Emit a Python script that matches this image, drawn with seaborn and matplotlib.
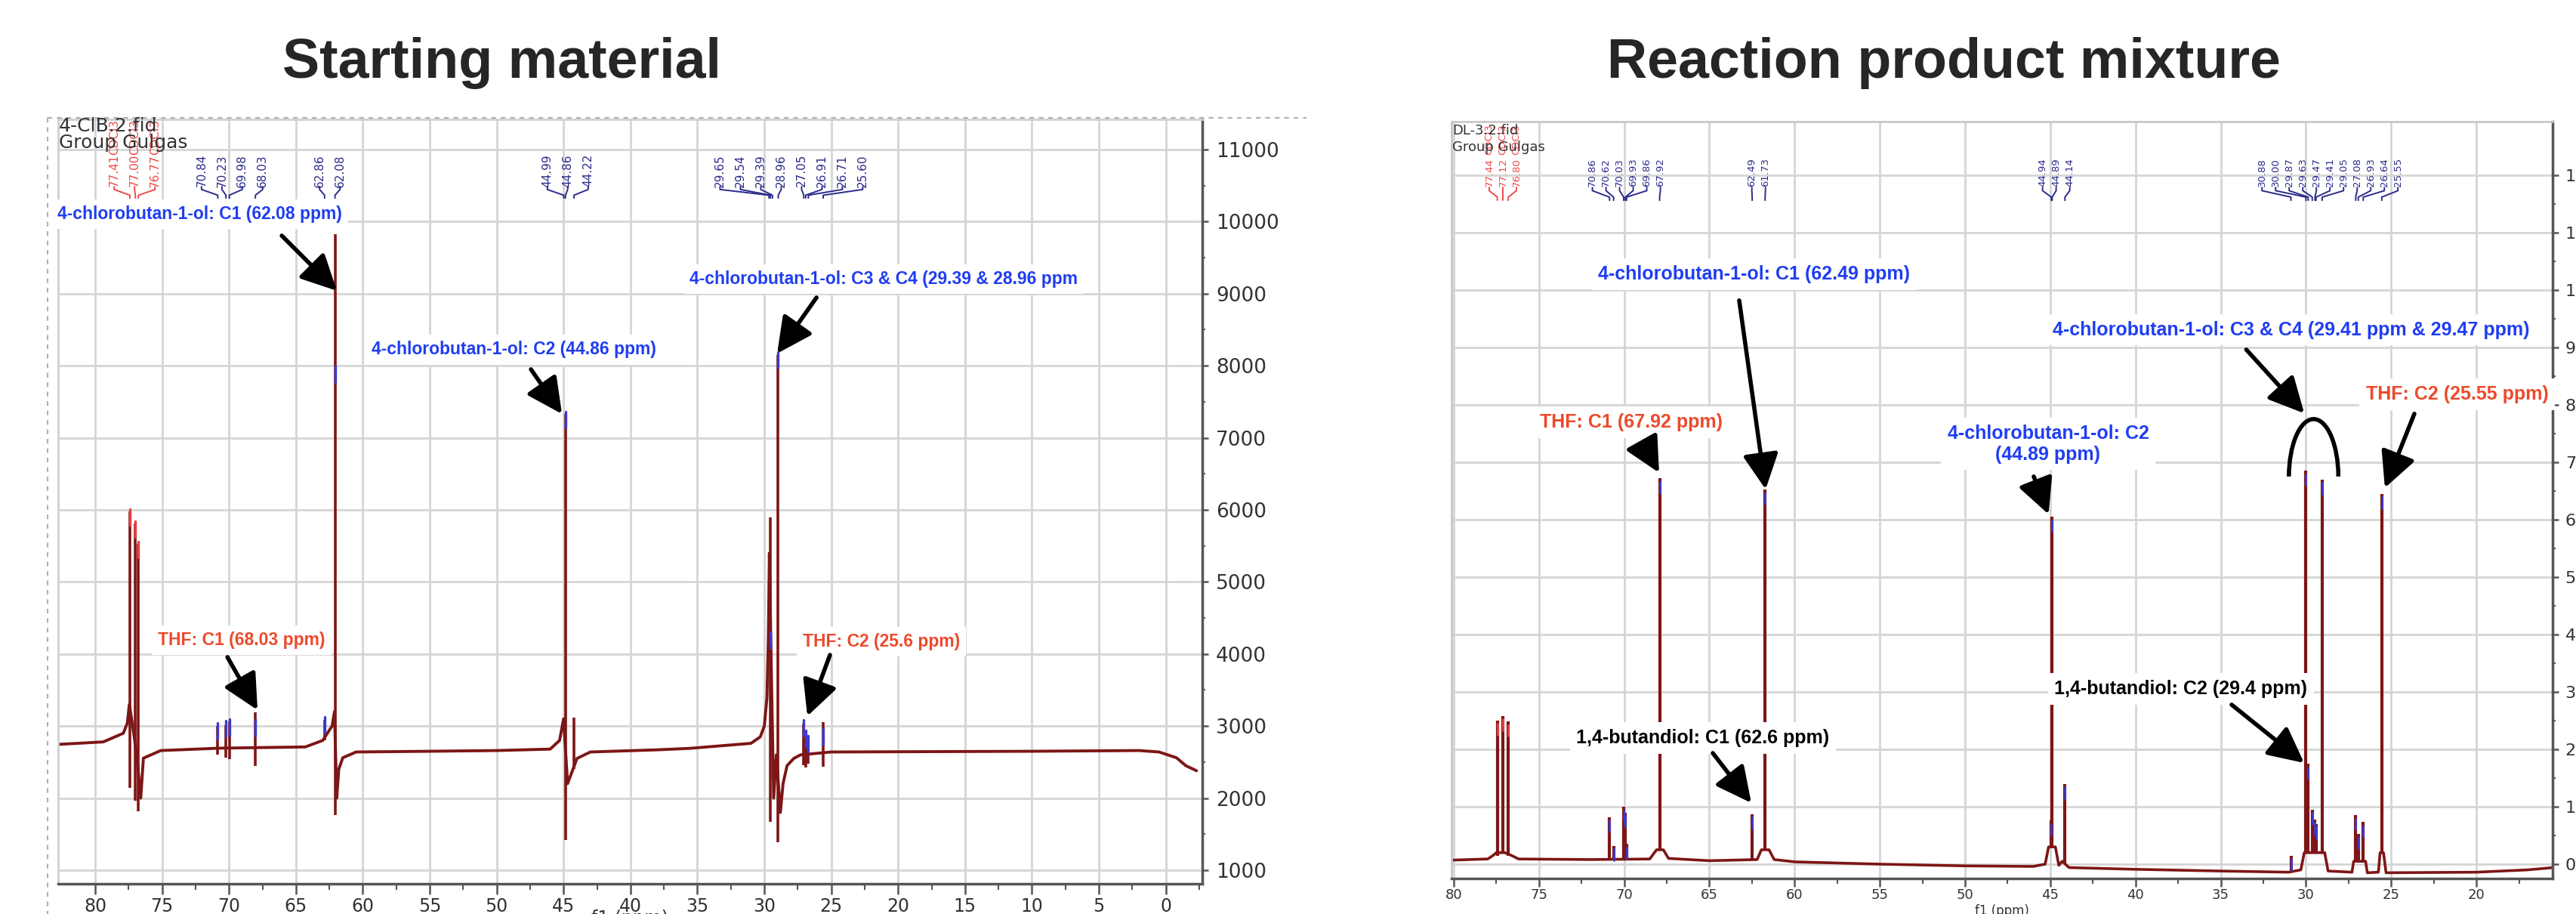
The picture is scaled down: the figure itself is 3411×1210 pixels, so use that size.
import matplotlib
matplotlib.use("Agg")
import numpy as np
import matplotlib.pyplot as plt
import seaborn as sns
from matplotlib.patches import Arc
from matplotlib.lines import Line2D

W, H = 3411, 1210

# ---------------- Starting material (4-ClB.2.fid) ----------------
sm_base_ppm = [82.8, 79.4, 77.9, 77.6, 77.45, 77.2, 76.9, 76.6, 76.4, 75.1, 70.7, 64.3, 63.0,
               62.3, 62.12, 61.95, 61.8, 61.5, 60.5, 55.0, 50.0, 46.0, 45.3, 45.0, 44.7, 44.5,
               44.0, 43.0, 38.0, 35.6, 31.0, 30.3, 30.0, 29.8, 29.7, 29.62, 29.45, 29.3, 29.1,
               28.8, 28.6, 28.3, 27.8, 27.3, 25.0, 10.0, 2.0, 0.5, -0.8, -1.5, -2.3]
sm_base_int = [2745, 2780, 2900, 3040, 3300, 3000, 2600, 2000, 2554, 2660, 2693, 2710, 2800,
               3000, 3200, 2000, 2400, 2560, 2640, 2650, 2660, 2680, 2800, 3100, 2200, 2300,
               2550, 2640, 2670, 2690, 2760, 2850, 3000, 3400, 4200, 5400, 3500, 2000, 2600,
               1800, 2200, 2450, 2550, 2600, 2640, 2650, 2660, 2640, 2560, 2450, 2380]
sm_peak_ppm = [77.41, 77.00, 76.77, 70.84, 70.23, 69.98, 68.03, 62.86, 62.08, 44.86, 44.22,
               29.54, 28.96, 27.05, 26.91, 26.71, 25.60]
sm_peak_top = [5980, 5810, 5530, 3000, 3010, 3060, 3190, 3090, 9830, 7330, 3120,
               5900, 8150, 3030, 2890, 2800, 3050]
sm_peak_dip = [2140, 1960, 1820, 2600, 2560, 2540, 2450, 2800, 1770, 1420, 2400,
               1670, 1390, 2460, 2430, 2480, 2440]
sm_mark_ppm = [77.41, 77.00, 76.77, 70.84, 70.23, 69.98, 68.03, 62.86, 62.08, 44.86, 29.54,
               28.96, 27.05, 26.91, 26.71, 25.60]
sm_mark_int = [5900, 5730, 5450, 2930, 2960, 2990, 2980, 3020, 7880, 7250, 4190,
               8080, 2980, 2830, 2760, 2850]
sm_mark_red = [True, True, True] + [False] * 13
sm_label_groups = [[77.41, 77.00, 76.77], [70.84, 70.23, 69.98, 68.03], [62.86, 62.08],
                   [44.99, 44.86, 44.22],
                   [29.65, 29.54, 29.39, 28.96, 27.05, 26.91, 26.71, 25.60]]
sm_label_solvent = [True, False, False, False, False]

# ---------------- Reaction product mixture (DL-3.2.fid) ----------------
rp_base_ppm = [80.1, 78.0, 77.7, 77.5, 77.0, 76.6, 76.2, 72.0, 68.5, 68.1, 67.7, 67.4, 65.0,
               62.2, 61.95, 61.5, 61.2, 60.0, 55.0, 50.0, 46.0, 45.3, 45.1, 44.7, 44.5, 44.3,
               43.9, 40.0, 35.0, 31.0, 30.3, 30.1, 28.9, 28.7, 27.3, 27.2, 26.5, 26.4, 25.75,
               25.65, 25.45, 25.3, 20.0, 17.0, 15.5]
rp_base_int = [70, 90, 150, 200, 200, 150, 90, 80, 90, 250, 250, 100, 60,
               80, 250, 250, 80, 40, 0, -30, -40, 0, 300, 300, -20, 50,
               -60, -90, -120, -140, -100, 200, 200, -120, -140, 50, 50, -150, -140,
               200, 200, -150, -140, -100, -60]
rp_peak_ppm = [77.44, 77.12, 76.80, 70.86, 70.62, 70.03, 69.93, 69.86, 67.92, 62.49, 61.73,
               44.94, 44.89, 44.14, 30.88, 30.00, 29.87, 29.63, 29.47, 29.41, 29.05,
               27.08, 26.93, 26.64, 25.55]
rp_peak_top = [2500, 2580, 2480, 820, 320, 1000, 900, 350, 6720, 870, 6520,
               760, 6050, 1400, 150, 6850, 1750, 950, 780, 700, 6700,
               850, 520, 730, 6450]
rp_peak_base = [150, 200, 150, 80, 80, 80, 80, 80, 250, 80, 250,
                300, 300, 0, -140, 200, 200, 200, 200, 200, 200,
                50, 50, 50, 200]
rp_mark_red = [True, True, True] + [False] * 22
rp_label_groups = [[77.44, 77.12, 76.80], [70.86, 70.62, 70.03, 69.93, 69.86, 67.92],
                   [62.49, 61.73], [44.94, 44.89, 44.14],
                   [30.88, 30.00, 29.87, 29.63, 29.47, 29.41, 29.05, 27.08, 26.93, 26.64, 25.55]]
rp_label_solvent = [True, False, False, False, False]

SPEC = "#7d1616"
NAVY = "#2b2b8c"
PINK = "#ef4a4a"
BLUE = "#1f3df2"
ORANGE = "#ec4a2c"
GRID = "#d5d5d5"

sns.set_theme(style="white")
plt.rcParams['font.family'] = ['DejaVu Sans']
ANN_FONT = ['Liberation Sans', 'DejaVu Sans']

fig = plt.figure(figsize=(W / 100, H / 100), dpi=100)


def add_ax(l, t, r, b):
    return fig.add_axes([l / W, 1 - b / H, (r - l) / W, (b - t) / H])


def style_axis(ax, xlim, ylim, xstep, ystep, xfs, yfs, tlen, tpad, ypad):
    ax.set_xlim(*xlim)
    ax.set_ylim(*ylim)
    ax.set_xticks(np.arange(80, xlim[1] - 0.01, -xstep))
    ax.set_xticks(np.arange(80 - xstep / 2, xlim[1], -xstep), minor=True)
    yt = np.arange(ystep[0], ylim[1], ystep[1])
    ax.set_yticks(yt)
    ax.set_yticks(yt[:-1] + ystep[1] / 2, minor=True)
    ax.yaxis.tick_right()
    ax.grid(True, which='major', color=GRID, lw=2)
    ax.set_axisbelow(True)
    ax.tick_params(axis='x', which='major', direction='out', length=tlen, width=1.8,
                   color='#555', labelsize=xfs, labelcolor='#333', pad=tpad, bottom=True)
    ax.tick_params(axis='x', which='minor', direction='out', length=tlen * 0.6, width=1.5,
                   color='#555', bottom=True)
    ax.tick_params(axis='y', which='major', direction='out', length=6, width=1.8,
                   color='#555', labelsize=yfs, labelcolor='#333', pad=ypad, right=True,
                   left=False)
    ax.tick_params(axis='y', which='minor', direction='out', length=3, width=1.5,
                   color='#555', right=True, left=False)
    for s in ['left', 'top']:
        ax.spines[s].set_color('#cfcfcf')
        ax.spines[s].set_linewidth(2)
    for s in ['right', 'bottom']:
        ax.spines[s].set_color('#555')
        ax.spines[s].set_linewidth(2.5)
    ax.set_xlabel('')
    ax.set_ylabel('')


def peak_labels(ax, groups, solvent, px_per_ppm, spacing, y_num, y_sol, y0, y1, fs):
    tr = ax.get_xaxis_transform()
    step = spacing / px_per_ppm
    for ppms, is_sol in zip(groups, solvent):
        col = PINK if is_sol else NAVY
        c = np.mean(ppms)
        n = len(ppms)
        for i, p in enumerate(ppms):
            lx = c + (n - 1) / 2 * step - i * step
            ax.text(lx, y_num, f"{p:.2f}", rotation=90, ha='center', va='center',
                    color=col, fontsize=fs, transform=tr, clip_on=False)
            if is_sol:
                ax.text(lx, y_sol, "CDCl3", rotation=90, ha='center', va='center',
                        color=PINK, fontsize=fs, transform=tr, clip_on=False)
            d = (y0 - y1) * 0.25
            ax.plot([lx, lx, p, p], [y0, y0 - d, y1 + d, y1], color=col, lw=1.4,
                    transform=tr, clip_on=False)


def callout(ax, text, xy_text, color, fs, head=None, tail=None):
    ax.text(xy_text[0], xy_text[1], text, ha='center', va='center', color=color,
            fontsize=fs, fontweight='bold', family=ANN_FONT, zorder=10,
            bbox=dict(boxstyle='square,pad=0.35', fc='white', ec='none'))
    if head is not None:
        ax.annotate('', xy=head, xytext=tail, zorder=11,
                    arrowprops=dict(arrowstyle='-|>,head_length=0.9,head_width=0.45',
                                    color='black', lw=4, mutation_scale=32,
                                    shrinkA=0, shrinkB=0))


# ================= left panel =================
axL = add_ax(77, 158, 1592, 1170)
style_axis(axL, (82.77, -2.73), (811, 11419), 5, (1000, 1000), 17, 19, 10, 3, 7)
sns.lineplot(x=sm_base_ppm, y=sm_base_int, ax=axL, color=SPEC, lw=2.8, sort=False,
             estimator=None)
axL.vlines(sm_peak_ppm, sm_peak_dip, sm_peak_top, color=SPEC, lw=2.6)
for p, v, red in zip(sm_mark_ppm, sm_mark_int, sm_mark_red):
    axL.plot([p, p], [v - 110, v + 110], color='#e84040' if red else '#3a3ad0', lw=2.4)
peak_labels(axL, sm_label_groups, sm_label_solvent, 17.72, 27, 0.933, 0.977, 0.912, 0.897, 11)

callout(axL, "4-chlorobutan-1-ol: C1 (62.08 ppm)", (72.2, 10100), BLUE, 16.5,
        head=(61.94, 9040), tail=(66.06, 9805))
callout(axL, "4-chlorobutan-1-ol: C2 (44.86 ppm)", (48.74, 8222), BLUE, 16.5,
        head=(45.12, 7331), tail=(47.44, 7950))
callout(axL, "4-chlorobutan-1-ol: C3 & C4 (29.39 & 28.96 ppm", (21.1, 9197), BLUE, 16.5,
        head=(29.04, 8170), tail=(26.1, 8946))
callout(axL, "THF: C1 (68.03 ppm)", (69.05, 4187), ORANGE, 16.5,
        head=(67.87, 3222), tail=(70.12, 3956))
callout(axL, "THF: C2 (25.6 ppm)", (21.25, 4166), ORANGE, 16.5,
        head=(26.78, 3138), tail=(25.09, 3987))

# ================= right panel =================
axR = add_ax(1922, 161, 3380, 1163)
style_axis(axR, (80.13, 15.53), (-250, 12930), 5, (0, 1000), 13, 16, 8, 1, 6)
for s in ['top', 'left']:
    axR.spines[s].set_color('#c8c8c8')
sns.lineplot(x=rp_base_ppm, y=rp_base_int, ax=axR, color=SPEC, lw=2.6, sort=False,
             estimator=None)
axR.vlines(rp_peak_ppm, rp_peak_base, rp_peak_top, color=SPEC, lw=3)
for p, v, red in zip(rp_peak_ppm, rp_peak_top, rp_mark_red):
    axR.plot([p, p], [v - 250, v - 60], color='#e84040' if red else '#3a3ad0', lw=2)
peak_labels(axR, rp_label_groups, rp_label_solvent, 22.57, 18, 0.933, 0.976, 0.913, 0.896, 9.5)

callout(axR, "4-chlorobutan-1-ol: C1 (62.49 ppm)", (62.37, 10276), BLUE, 18,
        head=(61.70, 6526), tail=(63.25, 9816))
callout(axR, "THF: C1 (67.92 ppm)", (69.59, 7697), ORANGE, 18,
        head=(67.95, 6816), tail=(68.92, 7329))
callout(axR, "4-chlorobutan-1-ol: C2\n(44.89 ppm)", (45.13, 7316), BLUE, 18,
        head=(45.10, 6092), tail=(45.97, 6750))
callout(axR, "4-chlorobutan-1-ol: C3 & C4 (29.41 ppm & 29.47 ppm)", (30.86, 9303), BLUE, 18,
        head=(30.1, 7850), tail=(33.5, 8960))
callout(axR, "THF: C2 (25.55 ppm)", (21.12, 8184), ORANGE, 18,
        head=(25.37, 6553), tail=(23.64, 7842))
callout(axR, "1,4-butandiol: C1 (62.6 ppm)", (65.38, 2197), 'black', 18,
        head=(62.54, 1066), tail=(64.8, 1934))
callout(axR, "1,4-butandiol: C2 (29.4 ppm)", (37.33, 3053), 'black', 18,
        head=(30.11, 1763), tail=(34.36, 2776))
axR.add_patch(Arc((29.55, 6750), 2.9, 2000, theta1=0, theta2=180, color='black', lw=4,
                  zorder=11))

# ================= figure text =================
fig.text(664 / W, 1 - 83 / H, "Starting material", ha='center', va='center',
         fontsize=53, fontweight='bold', family=ANN_FONT)
fig.text(2574 / W, 1 - 83 / H, "Reaction product mixture", ha='center', va='center',
         fontsize=53, fontweight='bold', family=ANN_FONT)
fig.text(78 / W, 1 - 167 / H, "4-ClB.2.fid", ha='left', va='center', fontsize=18, color='#333')
fig.text(78 / W, 1 - 189 / H, "Group Gulgas", ha='left', va='center', fontsize=18, color='#333')
fig.text(1923 / W, 1 - 173 / H, "DL-3.2.fid", ha='left', va='center', fontsize=13, color='#333')
fig.text(1923 / W, 1 - 195 / H, "Group Gulgas", ha='left', va='center', fontsize=13, color='#333')
fig.text(834 / W, 1 - 1216 / H, "f1 (ppm)", ha='center', va='center', fontsize=17, color='#333')
fig.text(2651 / W, 1 - 1206 / H, "f1 (ppm)", ha='center', va='center', fontsize=12, color='#333')

# dashed outer border of the left panel
dash = dict(color='#b0b0b0', lw=1.5, ls=(0, (3, 3)), transform=fig.transFigure)
fig.add_artist(Line2D([63 / W, 1730 / W], [1 - 156 / H, 1 - 156 / H], **dash))
fig.add_artist(Line2D([63 / W, 63 / W], [1 - 156 / H, 0], **dash))

fig.savefig("out.png", dpi=100)
